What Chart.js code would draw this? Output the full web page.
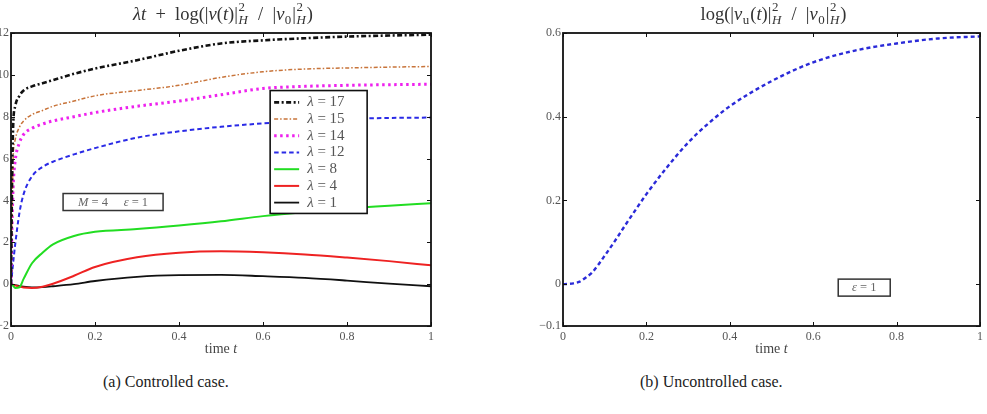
<!DOCTYPE html>
<html>
<head>
<meta charset="utf-8">
<script src="https://cdn.jsdelivr.net/npm/chart.js@4.4.1/dist/chart.umd.min.js"></script>
<style>
  body { margin: 0; background: #fff; width: 987px; height: 414px; overflow: hidden; position: relative; }
  canvas { position: absolute; top: 0; }
  .cap { position: absolute; top: 373px; font: 16px "Liberation Serif", serif; color: #222; white-space: nowrap; }
</style>
</head>
<body>
<canvas id="leftChart" width="457" height="360" style="left:-7px"></canvas>
<canvas id="rightChart" width="507" height="360" style="left:480px"></canvas>
<div class="cap" style="left:103px">(a) Controlled case.</div>
<div class="cap" style="left:640px">(b) Uncontrolled case.</div>
<script>
// ===== data =====
const tLeft = [0, 0.002, 0.005, 0.01, 0.02, 0.03, 0.05, 0.075, 0.1, 0.15, 0.2, 0.3, 0.4, 0.5, 0.6, 0.7, 0.8, 0.9, 1.0];
const lam17 = [0, 4.0, 7.5, 8.5, 9.0, 9.25, 9.45, 9.6, 9.75, 10.05, 10.3, 10.7, 11.15, 11.5, 11.65, 11.75, 11.83, 11.88, 11.92];
const lam15 = [0, 3.0, 6.0, 6.9, 7.5, 7.8, 8.1, 8.3, 8.5, 8.75, 9.0, 9.25, 9.5, 9.88, 10.15, 10.28, 10.33, 10.37, 10.4];
const lam14 = [0, 2.4, 4.6, 5.9, 6.75, 7.15, 7.45, 7.65, 7.8, 8.0, 8.2, 8.5, 8.75, 9.05, 9.35, 9.45, 9.5, 9.53, 9.55];
const lam12 = [0, 0.4, 1.0, 1.9, 3.4, 4.3, 5.15, 5.6, 5.85, 6.2, 6.5, 7.0, 7.3, 7.52, 7.68, 7.8, 7.9, 7.94, 7.96];
const lam8  = [0, -0.03, -0.08, -0.18, -0.15, 0.25, 1.0, 1.5, 1.9, 2.3, 2.5, 2.63, 2.8, 3.0, 3.25, 3.45, 3.62, 3.75, 3.86];
const lam4  = [0, -0.01, -0.03, -0.06, -0.12, -0.16, -0.18, -0.12, 0.02, 0.4, 0.82, 1.28, 1.5, 1.57, 1.52, 1.42, 1.27, 1.1, 0.9];
const lam1  = [0, -0.01, -0.03, -0.05, -0.09, -0.12, -0.15, -0.14, -0.1, 0.0, 0.15, 0.35, 0.43, 0.44, 0.38, 0.3, 0.17, 0.02, -0.1];
const lambdas = [17, 15, 14, 12, 8, 4, 1];

const tRight = [0, 0.0125, 0.025, 0.04, 0.055, 0.07, 0.085, 0.1, 0.125, 0.15, 0.175, 0.2, 0.25, 0.3, 0.35, 0.4, 0.5, 0.6, 0.7, 0.8, 0.9, 1.0];
const vUncontrolled = [0, 0.0005, 0.002, 0.006, 0.016, 0.028, 0.047, 0.068, 0.104, 0.142, 0.179, 0.215, 0.28, 0.338, 0.385, 0.425, 0.485, 0.53, 0.558, 0.575, 0.587, 0.592];

const xTicks = [0, 0.2, 0.4, 0.6, 0.8, 1];
const yTicksLeft = [-2, 0, 2, 4, 6, 8, 10, 12];
const yTicksRight = [-0.1, 0, 0.2, 0.4, 0.6];

const SERIF = '"Liberation Serif", "DejaVu Serif", serif';

// ===== small helper for math-ish text (italic, super/subscripts) =====
function runWidth(ctx, r, size) {
    if (r.t !== undefined) {
        ctx.font = (r.i ? 'italic ' : '') + size + 'px ' + SERIF;
        return ctx.measureText(r.t).width;
    }
    const s = size * 0.7;
    let w = 0;
    if (r.sup) { ctx.font = s + 'px ' + SERIF; w = Math.max(w, ctx.measureText(r.sup).width); }
    if (r.sub) { ctx.font = (r.subI ? 'italic ' : '') + s + 'px ' + SERIF; w = Math.max(w, ctx.measureText(r.sub).width); }
    return w + 1.5;
}
function drawRuns(ctx, runs, cx, cy, size, color, alignLeft) {
    ctx.save();
    ctx.fillStyle = color;
    ctx.textBaseline = 'middle';
    ctx.textAlign = 'left';
    let total = 0;
    runs.forEach(r => total += runWidth(ctx, r, size));
    let x = alignLeft ? cx : cx - total / 2;
    runs.forEach(r => {
        const w = runWidth(ctx, r, size);
        if (r.t !== undefined) {
            ctx.font = (r.i ? 'italic ' : '') + size + 'px ' + SERIF;
            ctx.fillText(r.t, x, cy);
        } else {
            const s = size * 0.7;
            if (r.sup) { ctx.font = s + 'px ' + SERIF; ctx.fillText(r.sup, x + 0.5, cy - size * 0.38); }
            if (r.sub) { ctx.font = (r.subI ? 'italic ' : '') + s + 'px ' + SERIF; ctx.fillText(r.sub, x + 0.5, cy + size * 0.3); }
        }
        x += w;
    });
    ctx.restore();
}

const normH = { sup: '2', sub: 'H', subI: true };
const titleLeft = [{ t: 'λt', i: 1 }, { t: '  +  log(|' }, { t: 'v', i: 1 }, { t: '(' }, { t: 't', i: 1 }, { t: ')|' }, normH,
    { t: '  /  |' }, { t: 'v', i: 1 }, { sub: '0' }, { t: '|' }, normH, { t: ')' }];
const titleRight = [{ t: 'log(|' }, { t: 'v', i: 1 }, { sub: 'u' }, { t: '(' }, { t: 't', i: 1 }, { t: ')|' }, normH,
    { t: '  /  |' }, { t: 'v', i: 1 }, { sub: '0' }, { t: '|' }, normH, { t: ')' }];
const xTitle = [{ t: 'time ' }, { t: 't', i: 1 }];

// ===== plugin: matlab-like frame, inward ticks, titles, boxes =====
const framePlugin = {
    id: 'frame',
    afterDatasetsDraw(chart, args, opts) {
        const ctx = chart.ctx;
        const { left, right, top, bottom } = chart.chartArea;
        const xs = chart.scales.x, ys = chart.scales.y;
        ctx.save();
        ctx.strokeStyle = '#111';
        ctx.lineWidth = 1;
        xs.ticks.forEach(tk => {
            const px = Math.round(xs.getPixelForValue(tk.value)) + 0.5;
            ctx.beginPath();
            ctx.moveTo(px, bottom); ctx.lineTo(px, bottom - 4);
            ctx.moveTo(px, top); ctx.lineTo(px, top + 4);
            ctx.stroke();
        });
        ys.ticks.forEach(tk => {
            const py = Math.round(ys.getPixelForValue(tk.value)) + 0.5;
            ctx.beginPath();
            ctx.moveTo(left, py); ctx.lineTo(left + 4, py);
            ctx.moveTo(right, py); ctx.lineTo(right - 4, py);
            ctx.stroke();
        });
        ctx.lineWidth = 1.8;
        ctx.strokeRect(left, top, right - left, bottom - top);

        // text boxes anchored in data coords
        (opts.boxes || []).forEach(b => {
            const bx = xs.getPixelForValue(b.x), by = ys.getPixelForValue(b.y);
            ctx.fillStyle = '#fff';
            ctx.fillRect(bx, by, b.w, b.h);
            ctx.lineWidth = 1.5;
            ctx.strokeStyle = '#333';
            ctx.strokeRect(bx, by, b.w, b.h);
            drawRuns(ctx, b.runs, bx + b.w / 2, by + b.h / 2 + 0.5, 12.5, '#666');
        });

        // legend inside the axes
        if (opts.legend) {
            const L = opts.legend;
            const lx = xs.getPixelForValue(L.x), ly = ys.getPixelForValue(L.y);
            const rows = chart.data.datasets.length;
            const h = rows * L.row + 6;
            ctx.fillStyle = '#fff';
            ctx.fillRect(lx, ly, L.w, h);
            ctx.lineWidth = 1.6;
            ctx.strokeStyle = '#111';
            ctx.strokeRect(lx, ly, L.w, h);
            chart.data.datasets.forEach((ds, i) => {
                const cy = ly + 3 + L.row * (i + 0.5) + 0.5;
                ctx.save();
                ctx.strokeStyle = ds.borderColor;
                ctx.lineWidth = ds.borderWidth;
                ctx.setLineDash(ds.borderDash || []);
                ctx.beginPath();
                ctx.moveTo(lx + 4, cy); ctx.lineTo(lx + 29, cy);
                ctx.stroke();
                ctx.restore();
                drawRuns(ctx, [{ t: 'λ', i: 1 }, { t: ' = ' + lambdas[i] }], lx + 37, cy, 15, '#555', true);
            });
        }
        ctx.restore();
    },
    afterDraw(chart, args, opts) {
        const ctx = chart.ctx;
        const { left, right } = chart.chartArea;
        const mid = (left + right) / 2;
        drawRuns(ctx, opts.title, mid + 2, 15, 18.5, '#333');
        drawRuns(ctx, xTitle, mid, 349, 14, '#444');
    }
};

function fmtTick(v) {
    const r = Math.round(v * 10) / 10;
    return r < 0 ? '\u2212' + Math.abs(r) : String(r);
}

function makeScales(yMin, yMax, yTicks, yWidth) {
    return {
        x: {
            type: 'linear', min: 0, max: 1,
            afterBuildTicks: axis => { axis.ticks = xTicks.map(v => ({ value: v })); },
            afterFit: axis => { axis.height = 34; },
            grid: { display: false, drawTicks: false }, border: { display: false },
            ticks: { padding: 4, color: '#555', font: { family: SERIF, size: 12 }, callback: v => fmtTick(v), maxRotation: 0 }
        },
        y: {
            min: yMin, max: yMax,
            afterBuildTicks: axis => { axis.ticks = yTicks.map(v => ({ value: v })); },
            afterFit: axis => { axis.width = yWidth; },
            grid: { display: false, drawTicks: false }, border: { display: false },
            ticks: { padding: 2, color: '#555', font: { family: SERIF, size: 12 }, callback: v => fmtTick(v) }
        }
    };
}

function series(ts, vs) { return ts.map((t, i) => ({ x: t, y: vs[i] })); }

const lineBase = { pointRadius: 0, fill: false, cubicInterpolationMode: 'monotone', borderCapStyle: 'butt' };

// ===== left chart: controlled case =====
new Chart(document.getElementById('leftChart'), {
    type: 'line',
    data: {
        datasets: [
            { ...lineBase, data: series(tLeft, lam17), borderColor: '#111', borderWidth: 2.6, borderDash: [5, 2.5, 2, 2.5] },
            { ...lineBase, data: series(tLeft, lam15), borderColor: '#c8743a', borderWidth: 1.5, borderDash: [4, 2, 1.5, 2] },
            { ...lineBase, data: series(tLeft, lam14), borderColor: '#ee22ee', borderWidth: 3, borderDash: [2.5, 3.5] },
            { ...lineBase, data: series(tLeft, lam12), borderColor: '#2a2ae6', borderWidth: 2, borderDash: [4.5, 3] },
            { ...lineBase, data: series(tLeft, lam8), borderColor: '#22dd22', borderWidth: 2 },
            { ...lineBase, data: series(tLeft, lam4), borderColor: '#ee2222', borderWidth: 2 },
            { ...lineBase, data: series(tLeft, lam1), borderColor: '#111', borderWidth: 1.8 }
        ]
    },
    options: {
        responsive: false,
        animation: false,
        layout: { padding: { top: 33, right: 19, left: 0, bottom: 0 } },
        scales: makeScales(-2, 12, yTicksLeft, 18),
        plugins: {
            legend: { display: false },
            tooltip: { enabled: false },
            frame: {
                title: titleLeft,
                legend: { x: 0.617, y: 9.25, w: 97, row: 16.7 },
                boxes: [{ x: 0.124, y: 4.33, w: 100, h: 17, runs: [{ t: 'M', i: 1 }, { t: ' = 4     ' }, { t: 'ε', i: 1 }, { t: ' = 1' }] }]
            }
        }
    },
    plugins: [framePlugin]
});

// ===== right chart: uncontrolled case =====
new Chart(document.getElementById('rightChart'), {
    type: 'line',
    data: {
        datasets: [
            { ...lineBase, data: series(tRight, vUncontrolled), borderColor: '#2a2ad8', borderWidth: 2.4, borderDash: [4, 3] }
        ]
    },
    options: {
        responsive: false,
        animation: false,
        layout: { padding: { top: 33, right: 4, left: 0, bottom: 0 } },
        scales: makeScales(-0.1, 0.6, yTicksRight, 83),
        plugins: {
            legend: { display: false },
            tooltip: { enabled: false },
            frame: {
                title: titleRight,
                boxes: [{ x: 0.66, y: 0.012, w: 52, h: 17, runs: [{ t: 'ε', i: 1 }, { t: ' = 1' }] }]
            }
        }
    },
    plugins: [framePlugin]
});
</script>
</body>
</html>
